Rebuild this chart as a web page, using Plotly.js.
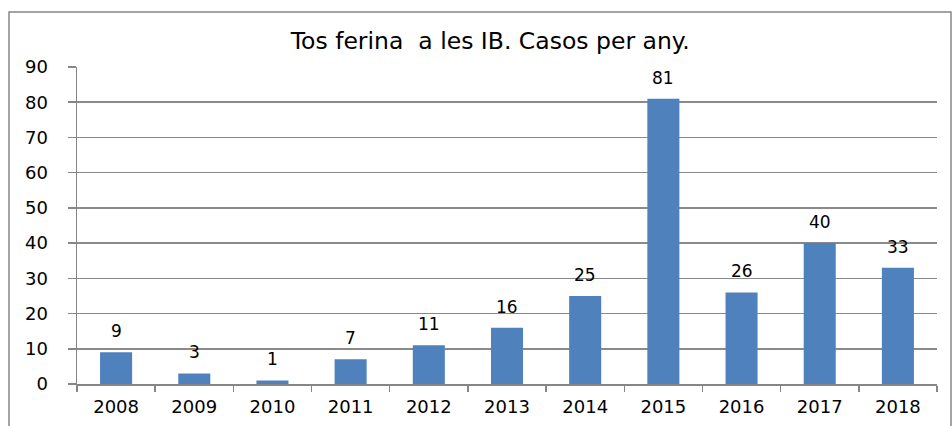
<!DOCTYPE html>
<html><head><meta charset="utf-8">
<script src="https://cdn.plot.ly/plotly-3.0.1.min.js"></script>
<style>html,body{margin:0;padding:0;background:#fff}#chart{width:952px;height:426px}</style>
</head><body><div id="chart"></div>
<script>
const years = ['2008','2009','2010','2011','2012','2013','2014','2015','2016','2017','2018'];
const cases = [9,3,1,7,11,16,25,81,26,40,33];
const chartTitle = 'Tos ferina  a les IB. Casos per any.';

const trace = {
  type: 'bar', x: years, y: cases,
  marker: {color: '#4F81BD'},
  hoverinfo: 'none'
};
// on a category axis, annotation x is the category index
const labels = years.map((yr, i) => ({
  x: i, y: cases[i], xref: 'x', yref: 'y', text: String(cases[i]),
  showarrow: false, yanchor: 'bottom', yshift: 9,
  font: {family: 'DejaVu Sans', size: 17, color: '#000'}
}));
const layout = {
  width: 952, height: 426,
  margin: {l: 77, r: 15, t: 67, b: 42},
  paper_bgcolor: '#fff', plot_bgcolor: '#fff',
  showlegend: false, bargap: 0.59,
  title: {text: chartTitle, font: {family: 'DejaVu Sans', size: 23.5, color: '#000'},
          xref: 'container', x: 0.515, xanchor: 'center', yref: 'container', y: 1 - 41/426, yanchor: 'middle'},
  xaxis: {type: 'category', range: [-0.5, years.length - 0.5], autorange: false,
          showline: true, linecolor: '#868686', linewidth: 1.5,
          ticks: 'outside', tickson: 'boundaries', ticklen: 6, tickcolor: '#868686', tickwidth: 1.5,
          tickangle: 0,
          tickfont: {family: 'DejaVu Sans', size: 18, color: '#000'}, ticklabelstandoff: 6, showgrid: false},
  yaxis: {range: [0, 90], dtick: 10, showline: true, linecolor: '#868686', linewidth: 1.5,
          ticks: 'outside', ticklen: 8, tickcolor: '#868686', tickwidth: 1.5,
          showgrid: true, gridcolor: '#8a8a8a', gridwidth: 1.5, zeroline: false,
          tickfont: {family: 'DejaVu Sans', size: 18, color: '#000'}, ticklabelstandoff: 16},
  annotations: labels,
  shapes: [{type: 'rect', xref: 'paper', yref: 'paper',
            x0: (9-77)/860, x1: (951-77)/860, y0: (384-432)/317, y1: (384-12)/317,
            line: {color: '#868686', width: 1.5}, fillcolor: 'rgba(0,0,0,0)', layer: 'below'}]
};
Plotly.newPlot('chart', [trace], layout, {staticPlot: true});
</script></body></html>
